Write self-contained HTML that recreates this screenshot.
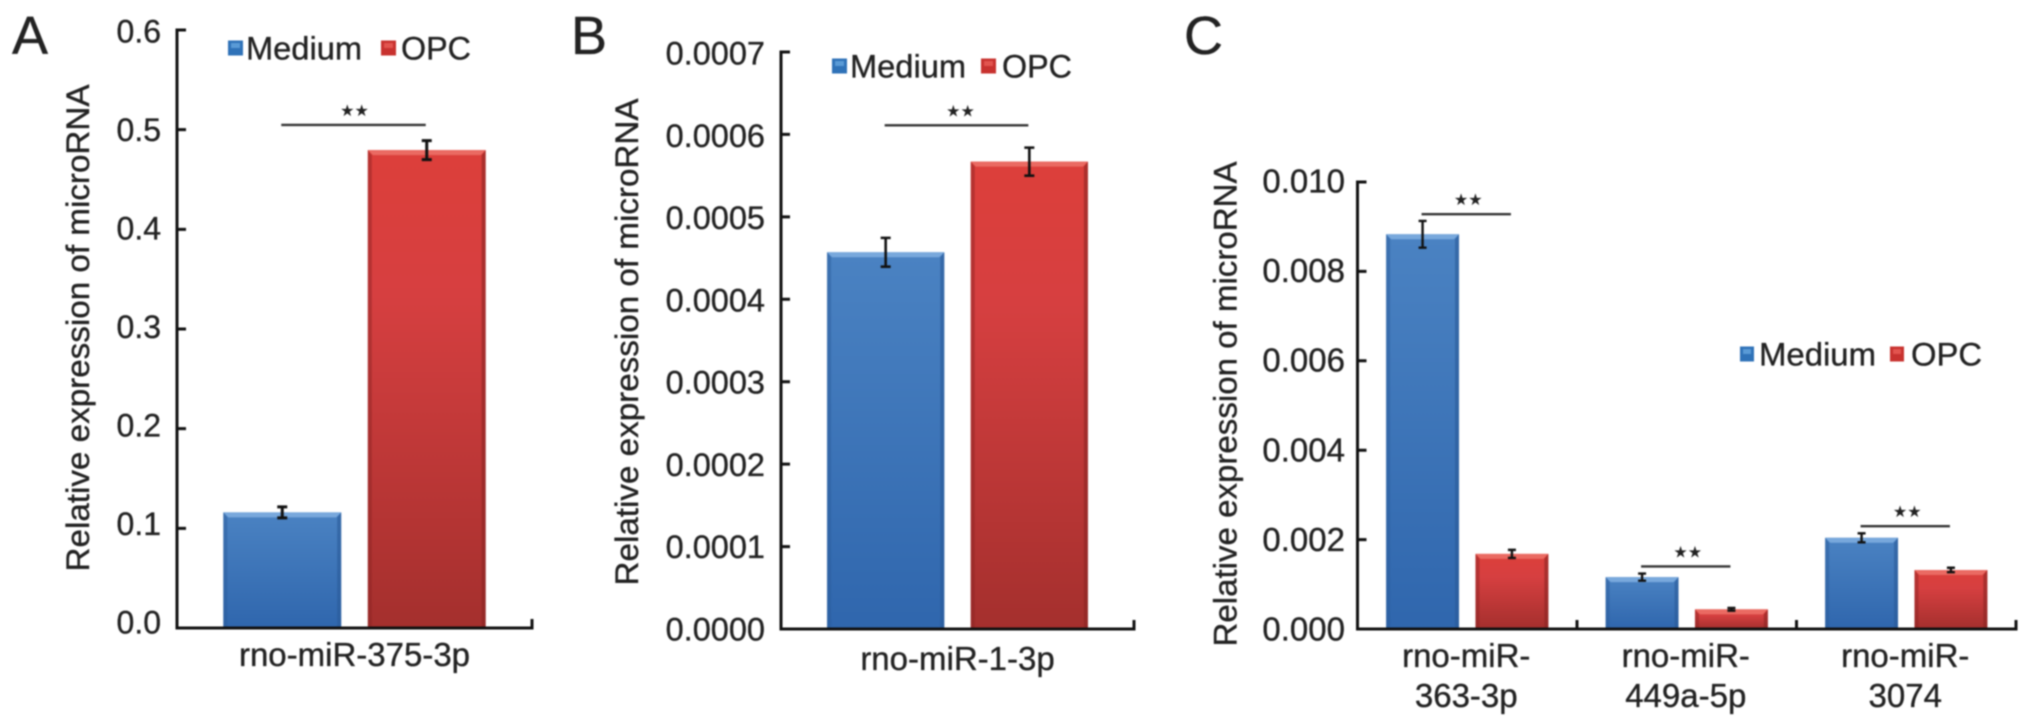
<!DOCTYPE html>
<html lang="en">
<head>
<meta charset="utf-8">
<title>Relative expression of microRNA</title>
<style>
html,body{margin:0;padding:0;background:#fff;width:2032px;height:724px;overflow:hidden}
svg{display:block;filter:blur(0.8px)}
text{font-family:"Liberation Sans",Arial,sans-serif;fill:#222;stroke:#222;stroke-width:0.35px}
text.stars{font-family:"DejaVu Sans","Liberation Sans",sans-serif;stroke:none}
</style>
</head>
<body>
<svg id="figure" xmlns="http://www.w3.org/2000/svg" width="2032" height="724" viewBox="0 0 2032 724">
  <defs>
    <linearGradient id="gradMedium" x1="0" y1="0" x2="0" y2="1">
      <stop offset="0" stop-color="#4a82c2"/><stop offset="1" stop-color="#2f66ad"/>
    </linearGradient>
    <linearGradient id="gradOpc" x1="0" y1="0" x2="0" y2="1">
      <stop offset="0" stop-color="#dc3f3a"/><stop offset="0.3" stop-color="#d63f40"/><stop offset="1" stop-color="#a42f2d"/>
    </linearGradient>
  </defs>
</svg>
<script>
// Panel A data
const panelACategories = [["rno-miR-375-3p"]];
const panelATicks = ["0.0","0.1","0.2","0.3","0.4","0.5","0.6"];
const panelAMedium = [0.116];
const panelAMediumErr = [0.0055];
const panelAOpc = [0.4795];
const panelAOpcErr = [0.0095];
const panelASigLevels = [0.5047];

// Panel B data
const panelBCategories = [["rno-miR-1-3p"]];
const panelBTicks = ["0.0000","0.0001","0.0002","0.0003","0.0004","0.0005","0.0006","0.0007"];
const panelBMedium = [0.000457];
const panelBMediumErr = [0.0000175];
const panelBOpc = [0.000567];
const panelBOpcErr = [0.000017];
const panelBSigLevels = [0.000611];

// Panel C data
const panelCCategories = [["rno-miR-","363-3p"],["rno-miR-","449a-5p"],["rno-miR-","3074"]];
const panelCTicks = ["0.000","0.002","0.004","0.006","0.008","0.010"];
const panelCMedium = [0.00883,0.00116,0.00204];
const panelCMediumErr = [0.0003,0.00008,0.0001];
const panelCOpc = [0.00168,0.00044,0.00132];
const panelCOpcErr = [0.00009,0.00003,0.00005];
const panelCSigLevels = [0.00928,0.0014,0.0023];

const svg = document.getElementById('figure');
const NS = 'http://www.w3.org/2000/svg';

function make(tag, attrs, parent){
  const e = document.createElementNS(NS, tag);
  for (const k in attrs) e.setAttribute(k, attrs[k]);
  (parent || svg).appendChild(e);
  return e;
}

function drawBar(g, x, w, yTop, yBase, fill, lightEdge, darkEdge, name){
  const bar = make('rect', {x:x, y:yTop, width:w, height:yBase-yTop, fill:'url(#'+fill+')'}, g);
  
  
  const b = 5;
  make('polygon', {points:[x,yTop,x+w,yTop,x+w-b,yTop+b,x+b,yTop+b].join(' '), fill:lightEdge}, g);
  make('polygon', {points:[x,yTop,x+b-1,yTop+b,x+b-1,yBase,x,yBase].join(' '), fill:darkEdge, opacity:0.45}, g);
  make('polygon', {points:[x+w,yTop,x+w-b+1,yTop+b,x+w-b+1,yBase,x+w,yBase].join(' '), fill:darkEdge, opacity:0.6}, g);
}

function drawErr(g, cx, yHi, yLo, cap, width, name){
  const p = make('path', {d:'M'+(cx-cap)+' '+yHi+'H'+(cx+cap)+'M'+cx+' '+yHi+'V'+yLo+'M'+(cx-cap)+' '+yLo+'H'+(cx+cap), stroke:'#111', 'stroke-width':width, fill:'none'}, g);
  
  
}

function drawLegend(g, o){
  const s1 = make('rect', {x:o.x1, y:o.cy-7.5, width:o.sw, height:15, fill:'#2f72b8'}, g);
  
  
  make('rect', {x:o.x1+3, y:o.cy-5, width:o.sw-6, height:5, fill:'#5a9ad6'}, g);
  const t1 = make('text', {x:o.tx1, y:o.cy+11.5, 'font-size':32.5, textLength:o.len1, lengthAdjust:'spacingAndGlyphs'}, g);
  t1.textContent = 'Medium';
  
  
  const s2 = make('rect', {x:o.x2, y:o.cy-7.5, width:o.sw, height:15, fill:'#c8322f'}, g);
  
  
  make('rect', {x:o.x2+3, y:o.cy-5, width:o.sw-6, height:5, fill:'#e2544e'}, g);
  const t2 = make('text', {x:o.tx2, y:o.cy+11.5, 'font-size':32.5, textLength:o.len2, lengthAdjust:'spacingAndGlyphs'}, g);
  t2.textContent = 'OPC';
  
  
}

function drawPanel(o){
  const g = make('g', {});
  
  

  const tickValues = o.ticks.map(Number);
  const yMax = Math.max.apply(null, tickValues);
  const yAxis = v => o.bottom - (v / yMax) * (o.bottom - o.top);
  const labelY = v => o.labelBottom - (v / yMax) * (o.labelBottom - o.labelTop);
  const nCat = o.categories.length;
  const catW = (o.right - o.left) / nCat;
  const xCat = i => o.left + catW * (i + 0.5);
  const barW = catW * 0.332;
  const gap = catW * 0.075;
  const xMedium = i => xCat(i) - gap / 2 - barW;
  const xOpc = i => xCat(i) + gap / 2;

  const letter = make('text', {x:o.letterX, y:o.letterY, 'font-size':54}, g);
  letter.textContent = o.letter;
  
  

  const title = make('text', {transform:'translate('+(o.titleX+11)+' '+o.titleMid+') rotate(-90)', 'text-anchor':'middle', 'font-size':32, textLength:o.titleLen, lengthAdjust:'spacingAndGlyphs'}, g);
  title.textContent = 'Relative expression of microRNA';
  
  

  o.categories.forEach((cat, i) => {
    const mHi = yAxis(o.medium[i]), oHi = yAxis(o.opc[i]);
    drawBar(g, xMedium(i), barW, mHi, o.bottom, 'gradMedium', '#78a8dc', '#2a5a98', 'bar-medium');
    drawBar(g, xOpc(i), barW, oHi, o.bottom, 'gradOpc', '#ea6a62', '#8a2423', 'bar-opc');
    const cm = xMedium(i) + barW / 2, co = xOpc(i) + barW / 2;
    drawErr(g, cm, yAxis(o.medium[i] + o.mediumErr[i]), yAxis(o.medium[i] - o.mediumErr[i]), o.cap, o.errWidth, 'error-bar-medium');
    drawErr(g, co, yAxis(o.opc[i] + o.opcErr[i]), yAxis(o.opc[i] - o.opcErr[i]), o.cap, o.errWidth, 'error-bar-opc');

    const ySig = yAxis(o.sig[i]);
    const line = make('line', {x1:cm - 1, x2:co - 1, y1:ySig, y2:ySig, stroke:'#333', 'stroke-width':2.4}, g);
    
    
    const st = make('text', {x:(cm + co) / 2 + o.starDx, y:ySig - 9, 'text-anchor':'middle', 'font-size':16, class:'stars'}, g);
    st.textContent = '★★';
    
    

    cat.forEach((ln, k) => {
      const t = make('text', {x:xCat(i) + o.catDx, y:o.catY + k * 40, 'text-anchor':'middle', 'font-size':33}, g);
      t.textContent = ln;
      
      
    });
  });

  let d = 'M' + o.left + ' ' + (o.top - 1.5) + 'V' + o.bottom + 'H' + o.right + 'V' + (o.bottom - 9);
  for (let i = 1; i < nCat; i++) {
    const xb = o.left + catW * i;
    d += 'M' + xb + ' ' + o.bottom + 'V' + (o.bottom - 9);
  }
  o.ticks.forEach((lbl, i) => {
    const v = tickValues[i];
    d += 'M' + o.left + ' ' + yAxis(v) + 'h9';
    const t = make('text', {x:o.tickRight, y:labelY(v) + 11.5, 'text-anchor':'end', 'font-size':o.tickSize}, g);
    t.textContent = lbl;
    
    
  });
  const axes = make('path', {d:d, fill:'none', stroke:'#111', 'stroke-width':3}, g);
  
  

  drawLegend(g, o.legend);
}

drawPanel({letter:'A', letterX:12, letterY:54, left:177, right:532, top:30, bottom:628,
  labelTop:31, labelBottom:622, tickRight:161, tickSize:32, cap:5, errWidth:3, starDx:0, catDx:0, catY:666,
  titleX:78, titleMid:328, titleLen:487,
  categories:panelACategories, ticks:panelATicks, medium:panelAMedium, mediumErr:panelAMediumErr,
  opc:panelAOpc, opcErr:panelAOpcErr, sig:panelASigLevels,
  legend:{x1:228, tx1:246, len1:116, x2:381, tx2:401, len2:70, cy:48, sw:15}});

drawPanel({letter:'B', letterX:571, letterY:54, left:781, right:1134, top:52, bottom:629,
  labelTop:53, labelBottom:629, tickRight:765, tickSize:32.5, cap:5, errWidth:2.6, starDx:3, catDx:0, catY:670,
  titleX:627, titleMid:342, titleLen:487,
  categories:panelBCategories, ticks:panelBTicks, medium:panelBMedium, mediumErr:panelBMediumErr,
  opc:panelBOpc, opcErr:panelBOpcErr, sig:panelBSigLevels,
  legend:{x1:832, tx1:850, len1:116, x2:981, tx2:1002, len2:70, cy:66, sw:15}});

drawPanel({letter:'C', letterX:1184, letterY:54, left:1357.5, right:2016, top:182, bottom:629,
  labelTop:181, labelBottom:629, tickRight:1345, tickSize:33, cap:4, errWidth:2.4, starDx:1, catDx:-1, catY:667,
  titleX:1225.6, titleMid:404, titleLen:485,
  categories:panelCCategories, ticks:panelCTicks, medium:panelCMedium, mediumErr:panelCMediumErr,
  opc:panelCOpc, opcErr:panelCOpcErr, sig:panelCSigLevels,
  legend:{x1:1740, tx1:1759, len1:117, x2:1890, tx2:1911, len2:71, cy:354, sw:14}});
</script>
</body>
</html>
